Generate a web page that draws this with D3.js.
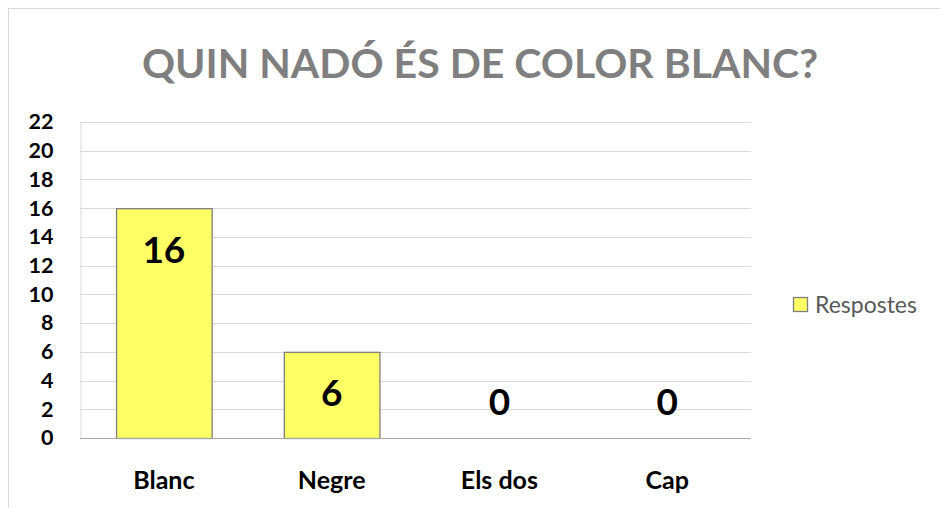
<!DOCTYPE html>
<html>
<head>
<meta charset="utf-8">
<script src="https://cdn.jsdelivr.net/npm/d3@7"></script>
<style>
  body { margin: 0; background: #fff; }
  text { font-family: Lato, "Open Sans", sans-serif; }
</style>
</head>
<body>
<svg id="chart" width="940" height="508"></svg>
<script>
const categories = ["Blanc", "Negre", "Els dos", "Cap"];
const values = [16, 6, 0, 0];
const yTicks = [0, 2, 4, 6, 8, 10, 12, 14, 16, 18, 20, 22];
const seriesName = "Respostes";
const title = "QUIN NADÓ ÉS DE COLOR BLANC?";

const svg = d3.select("#chart");
const width = +svg.attr("width");
const height = +svg.attr("height");

// chart frame (goes off the right and bottom edge)
svg.append("rect")
  .attr("x", 8.5).attr("y", 8.5)
  .attr("width", width + 10).attr("height", height + 10)
  .attr("fill", "#fff")
  .attr("stroke", "#d9d9d9");

const plot = { left: 80, right: 751, top: 122, bottom: 438 };

const x = d3.scaleBand()
  .domain(categories)
  .range([plot.left, plot.right])
  .paddingInner(0.43)
  .paddingOuter(0.215);

const y = d3.scaleLinear()
  .domain([0, 22])
  .range([plot.bottom, plot.top]);

// gridlines
svg.append("g")
  .selectAll("line")
  .data(yTicks.filter(d => d > 0))
  .enter()
  .append("line")
  .attr("x1", plot.left).attr("x2", plot.right)
  .attr("y1", d => Math.round(y(d)) + 0.5)
  .attr("y2", d => Math.round(y(d)) + 0.5)
  .attr("stroke", "#d9d9d9");

// y axis
const yAxis = svg.append("g")
  .attr("transform", `translate(${plot.left + 0.5},0)`)
  .call(d3.axisLeft(y).tickValues(yTicks).tickSize(0).tickPadding(27));
yAxis.select(".domain").attr("stroke", "#d9d9d9");
yAxis.selectAll("text")
  .attr("font-family", "Lato, sans-serif")
  .attr("font-size", 21.5)
  .attr("font-weight", "bold")
  .attr("fill", "#000");

// bars
svg.selectAll(".bar")
  .data(values)
  .enter()
  .append("rect")
  .attr("class", "bar")
  .attr("x", (_, i) => x(categories[i]) + 0.5)
  .attr("y", d => y(d) + 0.5)
  .attr("width", x.bandwidth())
  .attr("height", d => y(0) - y(d))
  .attr("fill", "#ffff66")
  .attr("stroke", "#7f7f7f")
  .attr("stroke-width", 1.3)
  .attr("display", d => d > 0 ? null : "none");

// x axis line
svg.append("line")
  .attr("x1", plot.left).attr("x2", plot.right)
  .attr("y1", y(0) + 0.5).attr("y2", y(0) + 0.5)
  .attr("stroke", "#a6a6a6");

// x axis labels
const xAxis = svg.append("g")
  .attr("transform", `translate(0,${plot.bottom})`)
  .call(d3.axisBottom(x).tickSize(0).tickPadding(33));
xAxis.select(".domain").remove();
xAxis.selectAll("text")
  .attr("font-family", "Lato, sans-serif")
  .attr("font-size", 25)
  .attr("font-weight", "bold")
  .attr("fill", "#000");

// value labels
svg.selectAll(".label")
  .data(values)
  .enter()
  .append("text")
  .attr("class", "label")
  .attr("x", (_, i) => x(categories[i]) + x.bandwidth() / 2)
  .attr("y", d => d > 0 ? y(d) + 41 : y(0) - 36)
  .attr("dy", "0.36em")
  .attr("text-anchor", "middle")
  .attr("font-size", 37)
  .attr("font-weight", "bold")
  .attr("fill", "#000")
  .text(d => d);

// title
svg.append("text")
  .attr("x", 480)
  .attr("y", 78)
  .attr("text-anchor", "middle")
  .attr("font-size", 41)
  .attr("font-weight", "bold")
  .attr("fill", "#7f7f7f")
  .text(title);

// legend
const legend = svg.append("g").attr("transform", "translate(793,297)");
legend.append("rect")
  .attr("x", 0.5).attr("y", 0.5)
  .attr("width", 14).attr("height", 14)
  .attr("fill", "#ffff66")
  .attr("stroke", "#7f7f7f")
  .attr("stroke-width", 1.3);
legend.append("text")
  .attr("x", 22)
  .attr("y", 7.5)
  .attr("dy", "0.36em")
  .attr("font-size", 23)
  .attr("fill", "#595959")
  .text(seriesName);
</script>
</body>
</html>
